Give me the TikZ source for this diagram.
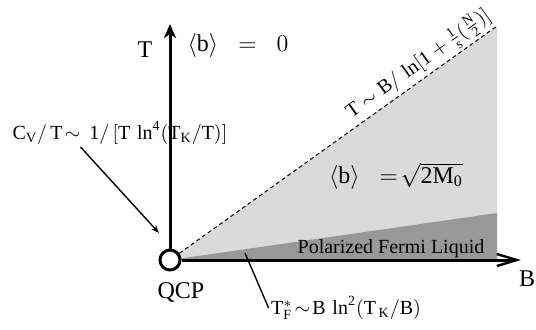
\documentclass[tikz,border=0pt]{standalone}
\usepackage{amsmath}
\usepackage{fontspec}
\setmainfont{Liberation Serif}
\usetikzlibrary{arrows.meta,positioning,calc}
\definecolor{phaseLight}{RGB}{218,218,218}
\definecolor{phaseDark}{RGB}{152,152,152}

\begin{document}
\begin{tikzpicture}[x=0.5pt, y=-0.5pt,
    axisT/.style={line width=1.5pt, -{Stealth[length=7pt, width=6pt, inset=2pt]}},
    axisB/.style={line width=1.5pt, -{Straight Barb[length=10pt, width=6pt, line width=1.2pt]}},
    big/.style={font=\fontsize{12}{14}\selectfont, inner sep=1pt},
    small/.style={font=\fontsize{10}{12}\selectfont, inner sep=1pt},
    pointer/.style={line width=0.7pt, -{Stealth[length=4pt, width=3pt]}}
]
\useasboundingbox (0,0) rectangle (536,329);

% phase regions
\coordinate (origin) at (170,260);
\coordinate (ptop) at (497,26);
\coordinate (pflt) at (497,213);
\coordinate (pcorner) at (497,260);
\fill[phaseLight] (origin) -- (ptop) -- (pcorner) -- cycle;
\fill[phaseDark] (origin) -- (pflt) -- (pcorner) -- cycle;

\node[circle, draw, line width=1.5pt, fill=white, minimum size=10pt, inner sep=0pt] (qcp) at (origin) {};

% crossover line
\draw[dashed, line width=0.5pt, dash pattern=on 2pt off 1.5pt] (qcp) -- (ptop)
    node[pos=0.78, sloped, above, small] {$\mathrm{T\sim B/\,\ln[1+\frac{1}{s}(\frac{N}{2})]}$};

% axes
\draw[axisT] (qcp.north) -- (170,24) coordinate (tend);
\draw[axisB] (qcp.east) -- (521,260) coordinate (bend);

\node[big] (tlab) at (145,50) {T};
\node[big] (blab) at (527,279) {B};
\node[big] (qlab) at (181,292) {QCP};
\node[big] (bzero) at (238,45) {$\langle\mathrm{b}\rangle\;\;=\;\;0$};
\node[big] (bsqrt) at (396,176) {$\langle\mathrm{b}\rangle\;\;=\!\sqrt{\mathrm{2M_{0}}}$};
\node[small] (pfl) at (391,249) {Polarized Fermi Liquid};

% specific heat
\node[small] (cv) at (120,133) {$\mathrm{C_{V}/\,T\!\sim\,1/\,[T\,\ln^{4}(T_{K}/T)]}$};
\coordinate (cvtip) at (159,233);
\draw[pointer] ($(cv.south west)!0.32!(cv.south east)$) -- (cvtip);

% Fermi scale
\node[small] (tf) at (346,308) {$\mathrm{T_{F}^{*}\!\sim\! B\,\ln^{2}(T_{\,K}/B)}$};
\coordinate (tfpt) at (245,253);
\draw[line width=0.7pt] (tf.west) -- (tfpt);
\end{tikzpicture}
\end{document}
